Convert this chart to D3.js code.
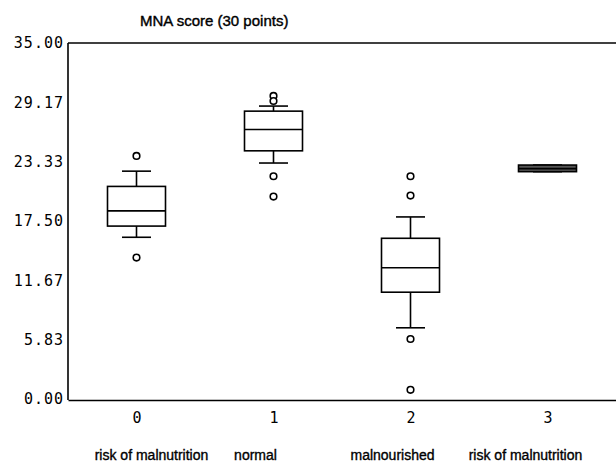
<!DOCTYPE html>
<html>
<head>
<meta charset="utf-8">
<script src="https://cdn.jsdelivr.net/npm/d3@7"></script>
<style>
  body { margin: 0; background: #fff; }
  svg { display: block; }
</style>
</head>
<body>
<svg id="boxplot_svg"></svg>
<script>
// values
const categories = [0, 1, 2, 3];
const groupNames = ["risk of malnutrition", "normal", "malnourished", "risk of malnutrition"];
const whiskerLow = [15.9, 23.2, 7.0, 22.35];
const q1 = [17.0, 24.4, 10.5, 22.35];
const median = [18.5, 26.5, 12.9, 22.65];
const q3 = [20.9, 28.3, 15.8, 23.0];
const whiskerHigh = [22.4, 28.8, 17.9, 23.0];
const outliers = [
  [23.9, 13.9],
  [29.8, 29.3, 21.9, 19.9],
  [21.9, 20.0, 5.9, 0.9],
  [],
];
const yTicks = [0, 5.83, 11.67, 17.5, 23.33, 29.17, 35];

const width = 616;
const height = 462;
const margin = { top: 43, right: 0, bottom: 62, left: 68 };
const boxWidth = 58;
const capWidth = 29;
// the group names under the axis are not quite centred on the ticks
const nameDx = [15, -18, -18, -22];

const d3 = window.d3;
const svg = d3.select("#boxplot_svg").attr("width", width).attr("height", height);

const x = d3
  .scalePoint()
  .domain(categories)
  .range([margin.left, width - margin.right])
  .padding(0.5);

const y = d3
  .scaleLinear()
  .domain([0, 35])
  .range([height - margin.bottom - 1, margin.top]);

const monoFont = "'DejaVu Sans Mono', 'Liberation Mono', monospace";
const sansFont = "'Liberation Sans', Arial, sans-serif";

// title
svg
  .append("text")
  .attr("x", 140)
  .attr("y", 21)
  .attr("dy", "0.35em")
  .attr("font-family", sansFont)
  .attr("font-size", 15)
  .attr("fill", "#000")
  .attr("stroke", "#000")
  .attr("stroke-width", 0.4)
  .text("MNA score (30 points)");

// y axis
svg
  .append("g")
  .attr("transform", `translate(${margin.left}, 0)`)
  .call(
    d3
      .axisLeft(y)
      .tickValues(yTicks)
      .tickFormat(d3.format(".2f"))
      .tickSize(0)
      .tickSizeOuter(0)
      .tickPadding(4)
  )
  .call((g) => g.select(".domain").attr("stroke", "#000").attr("stroke-width", 1.6).attr("d", `M0,${margin.top}V${height - margin.bottom}`))
  .call((g) =>
    g
      .selectAll(".tick text")
      .attr("font-family", monoFont)
      .attr("font-size", 15)
      .attr("letter-spacing", "1px")
      .attr("fill", "#000")
  );

// x axis
svg
  .append("g")
  .attr("transform", `translate(0, ${height - margin.bottom})`)
  .call(d3.axisBottom(x).tickSize(0).tickSizeOuter(0).tickPadding(12))
  .call((g) => g.select(".domain").attr("stroke", "#000").attr("stroke-width", 1.6))
  .call((g) =>
    g
      .selectAll(".tick text")
      .attr("font-family", monoFont)
      .attr("font-size", 15)
      .attr("fill", "#000")
  );

// top frame line
svg
  .append("line")
  .attr("x1", margin.left)
  .attr("x2", width - margin.right)
  .attr("y1", margin.top)
  .attr("y2", margin.top)
  .attr("stroke", "#000")
  .attr("stroke-width", 1.6);

// group names
svg
  .selectAll(".group_name")
  .data(categories)
  .enter()
  .append("text")
  .attr("class", "group_name")
  .attr("x", (d, i) => x(d) + nameDx[i])
  .attr("y", 455)
  .attr("dy", "0.35em")
  .attr("text-anchor", "middle")
  .attr("font-family", sansFont)
  .attr("font-size", 14)
  .attr("fill", "#000")
  .attr("stroke", "#000")
  .attr("stroke-width", 0.35)
  .text((d, i) => groupNames[i]);

// boxes
const boxes = svg
  .selectAll(".box")
  .data(categories)
  .enter()
  .append("g")
  .attr("class", "box")
  .attr("stroke", "#000")
  .attr("stroke-width", 1.6)
  .attr("fill", "none");

boxes
  .append("line")
  .attr("x1", (d) => x(d))
  .attr("x2", (d) => x(d))
  .attr("y1", (d, i) => y(whiskerHigh[i]))
  .attr("y2", (d, i) => y(q3[i]));

boxes
  .append("line")
  .attr("x1", (d) => x(d))
  .attr("x2", (d) => x(d))
  .attr("y1", (d, i) => y(q1[i]))
  .attr("y2", (d, i) => y(whiskerLow[i]));

boxes
  .append("line")
  .attr("x1", (d) => x(d) - capWidth / 2)
  .attr("x2", (d) => x(d) + capWidth / 2)
  .attr("y1", (d, i) => y(whiskerHigh[i]))
  .attr("y2", (d, i) => y(whiskerHigh[i]));

boxes
  .append("line")
  .attr("x1", (d) => x(d) - capWidth / 2)
  .attr("x2", (d) => x(d) + capWidth / 2)
  .attr("y1", (d, i) => y(whiskerLow[i]))
  .attr("y2", (d, i) => y(whiskerLow[i]));

boxes
  .append("rect")
  .attr("x", (d) => x(d) - boxWidth / 2)
  .attr("width", boxWidth)
  .attr("y", (d, i) => y(q3[i]))
  .attr("height", (d, i) => y(q1[i]) - y(q3[i]))
  .attr("fill", (d, i) => (y(q1[i]) - y(q3[i]) < 10 ? "#555" : "#fff"));

boxes
  .append("line")
  .attr("x1", (d) => x(d) - boxWidth / 2)
  .attr("x2", (d) => x(d) + boxWidth / 2)
  .attr("y1", (d, i) => y(median[i]))
  .attr("y2", (d, i) => y(median[i]));

// outliers
boxes
  .selectAll(".outlier")
  .data((d, i) => outliers[i].map((v) => ({ cat: d, v })))
  .enter()
  .append("circle")
  .attr("class", "outlier")
  .attr("cx", (d) => x(d.cat))
  .attr("cy", (d) => y(d.v))
  .attr("r", 3.3)
  .attr("fill", "#fff");
</script>
</body>
</html>
